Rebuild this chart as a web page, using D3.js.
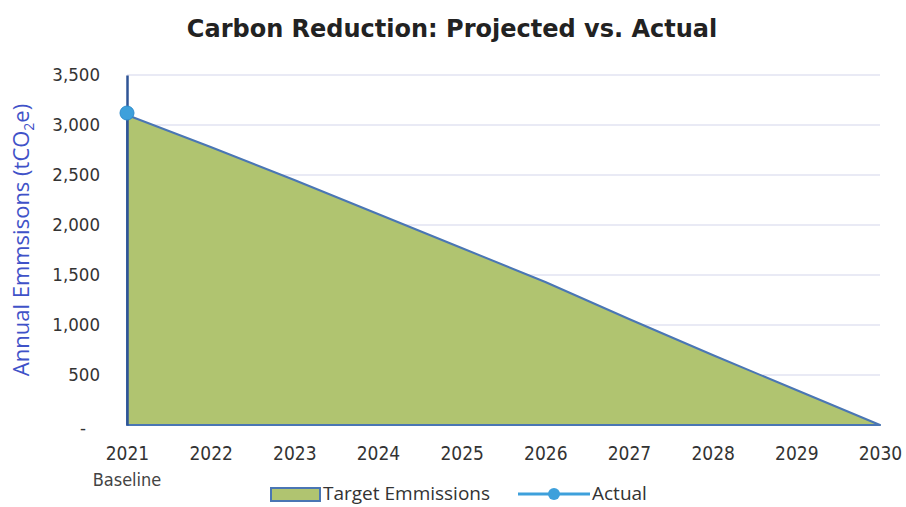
<!DOCTYPE html>
<html><head><meta charset="utf-8">
<script src="https://cdn.jsdelivr.net/npm/d3@7"></script>
<style>body{margin:0;background:#fff}</style>
</head><body>
<svg id="chart" width="906" height="507"></svg>
<script>
const years = ["2021","2022","2023","2024","2025","2026","2027","2028","2029","2030"];
const yearSub = ["Baseline","","","","","","","","",""];
const targetValues = [3100, 2780, 2450, 2110, 1770, 1430, 1060, 700, 350, 0];
const actualValues = [3120, null, null, null, null, null, null, null, null, null];
const yTicks = [0, 500, 1000, 1500, 2000, 2500, 3000, 3500];
const titleText = "Carbon Reduction: Projected vs. Actual";
const yTitle = "Annual Emmsisons (tCO";
const legendLabels = ["Target Emmissions", "Actual"];

const svg = d3.select("#chart");
const x = d3.scalePoint().domain(years).range([127, 880]);
const y = d3.scaleLinear().domain([0, 3500]).range([425, 75]);

const fillC = "#b0c470", strokeC = "#4a76b4", axisC = "#2f5496", dotC = "#3ea0db";
const tickFont = "DejaVu Sans Condensed, DejaVu Sans";

// gridlines
svg.append("g").selectAll("line").data(yTicks.filter(d => d > 0)).join("line")
  .attr("x1", 127).attr("x2", 880)
  .attr("y1", d => y(d)).attr("y2", d => y(d))
  .attr("stroke", "#e2e3f2").attr("stroke-width", 1.5);

// area
const area = d3.area().x((d, i) => x(years[i])).y0(y(0)).y1(d => y(d));
svg.append("path").datum(targetValues).attr("d", area)
  .attr("fill", fillC).attr("stroke", strokeC).attr("stroke-width", 2).attr("stroke-linejoin", "round");

// y axis
const yAxis = d3.axisLeft(y).tickValues(yTicks)
  .tickFormat(d => d === 0 ? "-" : d3.format(",")(d)).tickSize(0).tickPadding(27);
const gy = svg.append("g").attr("transform", "translate(127,0)").call(yAxis);
gy.select(".domain").attr("stroke", axisC).attr("stroke-width", 2.5);
gy.selectAll("text").attr("font-family", tickFont).attr("font-size", 18.5).attr("fill", "#333");
gy.selectAll(".tick").filter(d => d === 0).select("text").attr("dx", -14).attr("dy", "0.45em");

// x axis
const xAxis = d3.axisBottom(x).tickSize(0).tickPadding(22);
const gx = svg.append("g").attr("transform", "translate(0,425)").call(xAxis);
gx.select(".domain").remove();
gx.selectAll("text").attr("font-family", tickFont).attr("font-size", 19).attr("fill", "#333");
svg.append("g").selectAll("text").data(yearSub).join("text")
  .attr("x", (d, i) => x(years[i])).attr("y", 486).attr("text-anchor", "middle")
  .attr("font-family", tickFont).attr("font-size", 18).attr("fill", "#444").text(d => d);

// actual series
const actual = actualValues.map((v, i) => ({ year: years[i], v })).filter(d => d.v != null);
svg.append("path").datum(actual)
  .attr("d", d3.line().x(d => x(d.year)).y(d => y(d.v)))
  .attr("fill", "none").attr("stroke", dotC).attr("stroke-width", 3);
svg.append("g").selectAll("circle").data(actual).join("circle")
  .attr("cx", d => x(d.year)).attr("cy", d => y(d.v)).attr("r", 7)
  .attr("fill", dotC).attr("stroke", "#2e8ccc").attr("stroke-width", 1);

// title
svg.append("text").attr("x", 452).attr("y", 37).attr("text-anchor", "middle")
  .attr("font-family", "DejaVu Sans").attr("font-weight", "bold").attr("font-size", 24)
  .attr("fill", "#222").text(titleText);

// y title
const yt = svg.append("text").attr("transform", "translate(29,240) rotate(-90)")
  .attr("text-anchor", "middle").attr("font-family", "Open Sans").attr("font-size", 22)
  .attr("fill", "#3f52c8");
yt.append("tspan").text(yTitle);
yt.append("tspan").attr("font-size", 14).attr("dy", 5).text("2");
yt.append("tspan").attr("dy", -5).text("e)");

// legend
const lg = svg.append("g");
lg.append("rect").attr("x", 271).attr("y", 488).attr("width", 49).attr("height", 13)
  .attr("fill", fillC).attr("stroke", strokeC).attr("stroke-width", 2);
lg.append("text").attr("x", 323).attr("y", 500).attr("font-family", "Open Sans").attr("font-size", 19)
  .attr("fill", "#333").text(legendLabels[0]);
lg.append("line").attr("x1", 518).attr("x2", 590).attr("y1", 494).attr("y2", 494)
  .attr("stroke", dotC).attr("stroke-width", 3);
lg.append("circle").attr("cx", 554).attr("cy", 494).attr("r", 6).attr("fill", dotC);
lg.append("text").attr("x", 592).attr("y", 500).attr("font-family", "Open Sans").attr("font-size", 19)
  .attr("fill", "#333").text(legendLabels[1]);
</script>
</body></html>
